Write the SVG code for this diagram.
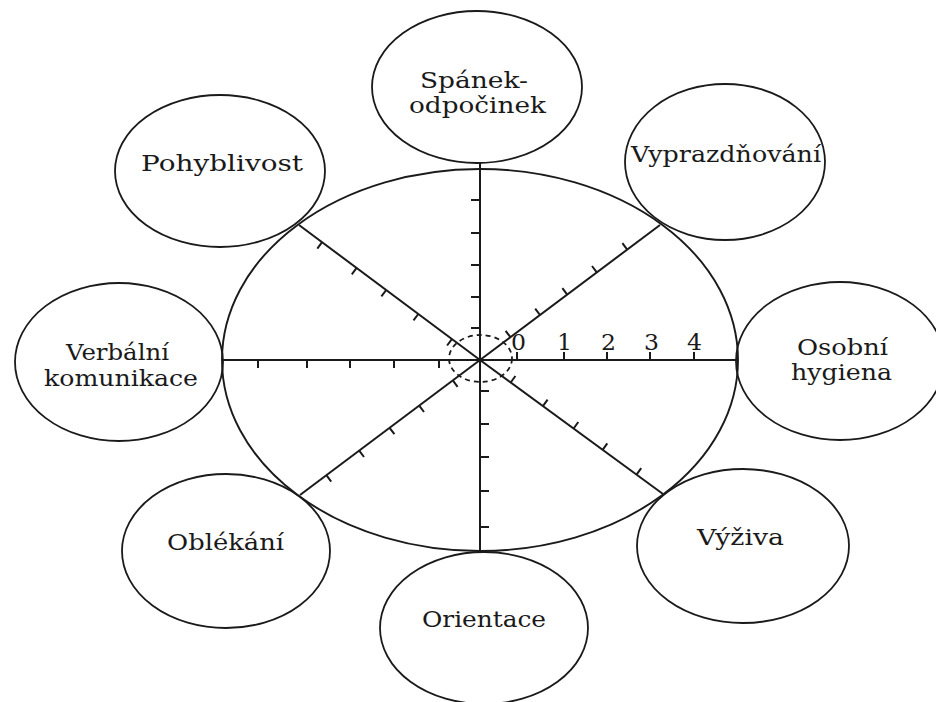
<svg xmlns="http://www.w3.org/2000/svg" width="936" height="702" viewBox="0 0 936 702">
<style>
.bg{fill:#ffffff}
.node ellipse{fill:none;stroke:#1a1a1a;stroke-width:1.8}
.lbl{font-family:"DejaVu Serif","Liberation Serif",serif;font-size:22px;fill:#1a1a1a}
.axis{stroke:#1a1a1a;stroke-width:2;fill:none}
.tick{stroke:#1a1a1a;stroke-width:2;fill:none}
.rim{fill:none;stroke:#1a1a1a;stroke-width:1.9}
.dash{fill:none;stroke:#1a1a1a;stroke-width:1.8;stroke-dasharray:5 4}
</style>
<rect class="bg" x="0" y="0" width="936" height="702"/>

<g id="chart">
<ellipse class="rim" cx="480" cy="360" rx="258" ry="191"/>
<ellipse class="dash" cx="480.5" cy="358.5" rx="31.5" ry="23.5"/>
</g>

<g id="connectors">
<line class="axis" x1="222" y1="360" x2="738" y2="360"/>
<line class="axis" x1="480" y1="163" x2="480" y2="552"/>
<line class="axis" x1="480" y1="360" x2="660" y2="225"/>
<line class="axis" x1="480" y1="360" x2="299" y2="225"/>
<line class="axis" x1="480" y1="360" x2="300" y2="495"/>
<line class="axis" x1="480" y1="360" x2="663" y2="494"/>
<path class="tick" d="M517 360V352 M564 360V352 M607 360V352 M650 360V352 M694 360V352"/>
<path class="tick" d="M439 360V368 M394 360V368 M350 360V368 M307 360V368 M258 360V368"/>
<path class="tick" d="M480 200H471 M480 233H471 M480 265H471 M480 297H471 M480 328H471"/>
<path class="tick" d="M480 391H489 M480 424H489 M480 457H489 M480 491H489 M480 527H489"/>
<path class="tick" d="M510.4 337.2L505.6 330.8 M540 315L535.2 308.6 M567.2 294.6L562.4 288.2 M596.8 272.4L592 266 M627.2 249.6L622.4 243.2"/>
<path class="tick" d="M451.9 339.1L447.1 345.5 M418.3 314L413.5 320.4 M386.2 290L381.4 296.4 M356.6 267.9L351.8 274.3 M322.1 242.2L317.3 248.6"/>
<path class="tick" d="M452.8 380.4L457.6 386.8 M419.2 405.6L424 412 M389.6 427.8L394.4 434.2 M359.2 450.6L364 457 M326.4 475.2L331.2 481.6"/>
<path class="tick" d="M510.7 382.5L515.4 376 M542.9 406.1L547.6 399.6 M573.6 428.5L578.3 422 M602.6 449.8L607.3 443.3 M636.5 474.6L641.2 468.1"/>
</g>

<g id="scale">
<text class="lbl" x="511" y="350" textLength="15" lengthAdjust="spacingAndGlyphs">0</text>
<text class="lbl" x="557" y="350" textLength="15" lengthAdjust="spacingAndGlyphs">1</text>
<text class="lbl" x="601" y="350" textLength="15" lengthAdjust="spacingAndGlyphs">2</text>
<text class="lbl" x="644" y="350" textLength="15" lengthAdjust="spacingAndGlyphs">3</text>
<text class="lbl" x="687" y="350" textLength="15" lengthAdjust="spacingAndGlyphs">4</text>
</g>

<g id="spanek" class="node">
<ellipse cx="477" cy="87" rx="105" ry="76"/>
<text class="lbl" x="420" y="88" textLength="108" lengthAdjust="spacingAndGlyphs">Spánek-</text>
<text class="lbl" x="409" y="113" textLength="137" lengthAdjust="spacingAndGlyphs">odpočinek</text>
</g>

<g id="vyprazdnovani" class="node">
<ellipse cx="725" cy="162" rx="100" ry="78"/>
<text class="lbl" x="631" y="162" textLength="190" lengthAdjust="spacingAndGlyphs">Vyprazdňování</text>
</g>

<g id="hygiena" class="node">
<ellipse cx="840" cy="361" rx="104" ry="79"/>
<text class="lbl" x="797" y="355" textLength="91" lengthAdjust="spacingAndGlyphs">Osobní</text>
<text class="lbl" x="791" y="380" textLength="101" lengthAdjust="spacingAndGlyphs">hygiena</text>
</g>

<g id="vyziva" class="node">
<ellipse cx="743" cy="546" rx="106" ry="77"/>
<text class="lbl" x="697" y="545" textLength="87" lengthAdjust="spacingAndGlyphs">Výživa</text>
</g>

<g id="orientace" class="node">
<ellipse cx="484" cy="628" rx="104" ry="76"/>
<text class="lbl" x="422" y="627" textLength="124" lengthAdjust="spacingAndGlyphs">Orientace</text>
</g>

<g id="oblekani" class="node">
<ellipse cx="226" cy="551" rx="104" ry="77"/>
<text class="lbl" x="167" y="550" textLength="117" lengthAdjust="spacingAndGlyphs">Oblékání</text>
</g>

<g id="komunikace" class="node">
<ellipse cx="119" cy="362" rx="104" ry="79"/>
<text class="lbl" x="66" y="360" textLength="103" lengthAdjust="spacingAndGlyphs">Verbální</text>
<text class="lbl" x="44" y="386" textLength="154" lengthAdjust="spacingAndGlyphs">komunikace</text>
</g>

<g id="pohyblivost" class="node">
<ellipse cx="220" cy="171" rx="105" ry="76"/>
<text class="lbl" x="141" y="171" textLength="162" lengthAdjust="spacingAndGlyphs">Pohyblivost</text>
</g>
</svg>
